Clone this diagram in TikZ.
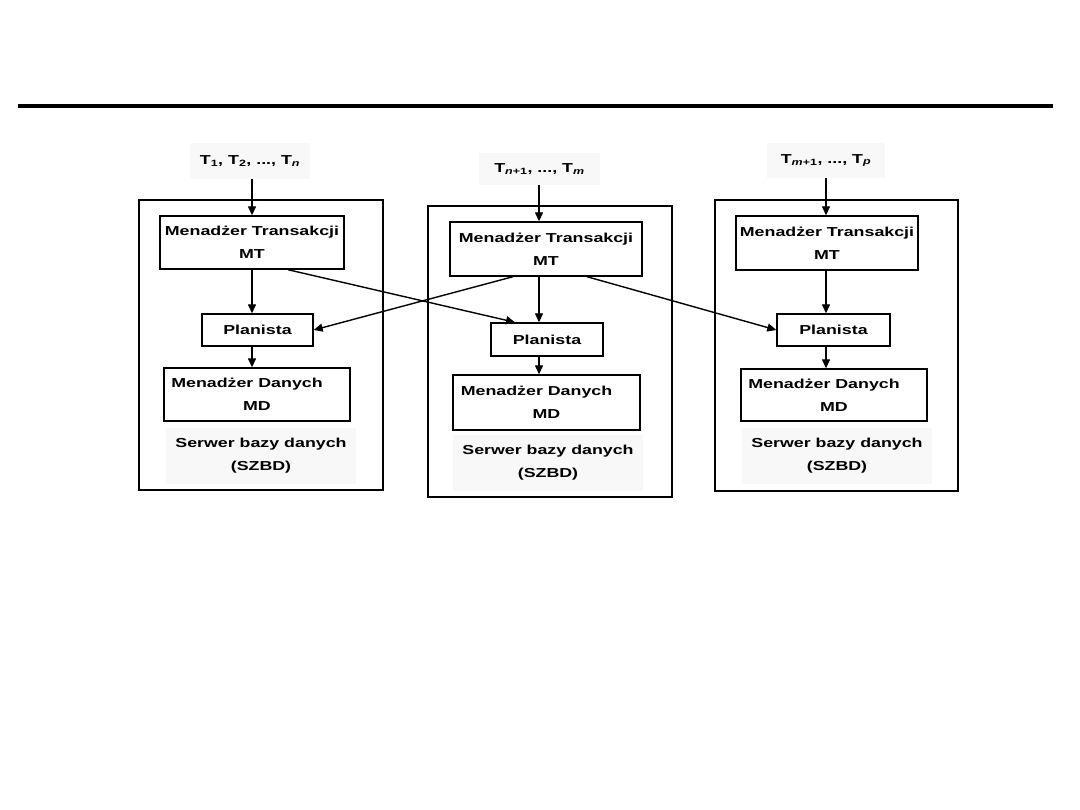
\documentclass[tikz,border=0pt]{standalone}
\usepackage{fontspec}
\setmainfont{Liberation Sans}[FakeStretch=1.37]
\usetikzlibrary{arrows.meta}
\definecolor{bgfaint}{gray}{0.972}
\newcommand\dgfont{\fontsize{13}{23}\selectfont\bfseries}
\begin{document}
\begin{tikzpicture}[x=1pt,y=-1pt,
  outerbox/.style={draw,line width=1.4pt,inner sep=0pt},
  blk/.style={draw,line width=1.4pt,inner sep=0pt,align=center,font=\dgfont},
  lbl/.style={fill=bgfaint,inner sep=0pt,align=center,font=\dgfont},
  arr/.style={line width=1.4pt,-{Triangle[length=9pt,width=8pt]}}
]
\fill[white] (0,0) rectangle (1080,810);
\useasboundingbox (0,0) rectangle (1080,810);
\draw[line width=4pt] (18,106.5) -- (1053,106.5);

% column axes
\coordinate (axL) at (252,0);
\coordinate (axM) at (539,0);
\coordinate (axR) at (826,0);

% outer server boxes
\node[outerbox,minimum width=244,minimum height=290] (srvL) at (261,345) {};
\node[outerbox,minimum width=244,minimum height=291] (srvM) at (550,351.5) {};
\node[outerbox,minimum width=243,minimum height=291] (srvR) at (836.5,345.5) {};

% transaction labels
\node[lbl,minimum width=120,minimum height=36] (lblL) at (250,161)
  {T\textsubscript{1}, T\textsubscript{2}, ..., T\textsubscript{\itshape n}};
\node[lbl,minimum width=121,minimum height=32] (lblM) at (539.5,169)
  {T\textsubscript{\itshape n\upshape+1}, ..., T\textsubscript{\itshape m}};
\node[lbl,minimum width=118,minimum height=35] (lblR) at (826,160.5)
  {T\textsubscript{\itshape m\upshape+1}, ..., T\textsubscript{\itshape p}};

% transaction managers
\node[blk,minimum width=184,minimum height=53] (mtL) at (252,242.5) {Menadżer Transakcji\\MT};
\node[blk,minimum width=192,minimum height=54] (mtM) at (546,249) {Menadżer Transakcji\\MT};
\node[blk,minimum width=182,minimum height=54] (mtR) at (827,243) {Menadżer Transakcji\\MT};

% schedulers
\node[blk,minimum width=111,minimum height=32] (plL) at (257.5,330) {Planista};
\node[blk,minimum width=112,minimum height=33] (plM) at (547,339.5) {Planista};
\node[blk,minimum width=113,minimum height=32] (plR) at (833.5,330) {Planista};

% data managers
\node[blk,minimum width=186,minimum height=53] (mdL) at (257,394.5) {Menadżer Danych\hspace*{20pt}\\MD};
\node[blk,minimum width=187,minimum height=55] (mdM) at (546.5,402.5) {Menadżer Danych\hspace*{20pt}\\MD};
\node[blk,minimum width=186,minimum height=52] (mdR) at (834,395) {Menadżer Danych\hspace*{20pt}\\MD};

% server captions
\node[lbl,minimum width=190,minimum height=56] (capL) at (261,456) {Serwer bazy danych\\(SZBD)};
\node[lbl,minimum width=190,minimum height=56] (capM) at (548,463) {Serwer bazy danych\\(SZBD)};
\node[lbl,minimum width=190,minimum height=56] (capR) at (837,456) {Serwer bazy danych\\(SZBD)};

% vertical arrows
\foreach \c in {L,M,R}{
  \draw[arr] (lbl\c.south -| ax\c) -- (mt\c.north -| ax\c);
  \draw[arr] (mt\c.south -| ax\c) -- (pl\c.north -| ax\c);
  \draw[arr] (pl\c.south -| ax\c) -- (md\c.north -| ax\c);
}

% cross arrows
\draw[arr] ([xshift=36pt]mtL.south) -- ([xshift=-32pt]plM.north);
\draw[arr] ([xshift=-33pt]mtM.south) -- (plL.east);
\draw[arr] ([xshift=41pt]mtM.south) -- (plR.west);
\end{tikzpicture}
\end{document}
